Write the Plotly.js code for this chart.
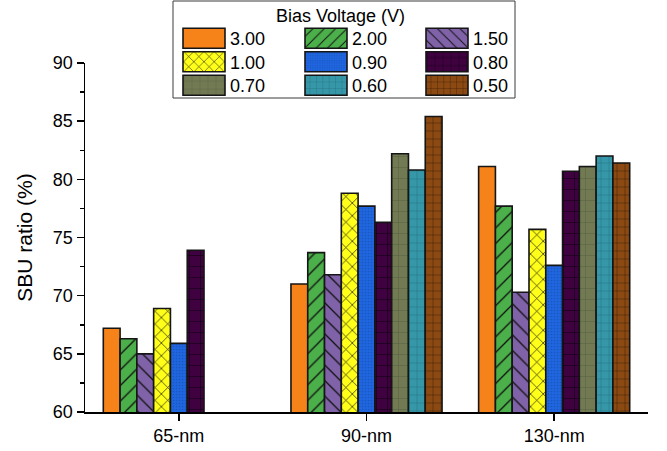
<!DOCTYPE html>
<html><head><meta charset="utf-8">
<script src="https://cdn.plot.ly/plotly-3.0.1.min.js"></script>
<style>html,body{margin:0;padding:0;background:#fff}</style>
</head><body><div id="chart" style="width:667px;height:451px"></div>
<script>
// ---- data ----
const categories = ['65-nm', '90-nm', '130-nm'];
const voltages = ['3.00', '2.00', '1.50', '1.00', '0.90', '0.80', '0.70', '0.60', '0.50'];
const v300 = [67.2, 71.0, 81.1];
const v200 = [66.3, 73.7, 77.7];
const v150 = [65.0, 71.8, 70.3];
const v100 = [68.9, 78.8, 75.7];
const v090 = [65.9, 77.7, 72.6];
const v080 = [73.9, 76.3, 80.7];
const v070 = [null, 82.2, 81.1];
const v060 = [null, 80.8, 82.0];
const v050 = [null, 85.4, 81.4];
const yTickVals = [60, 65, 70, 75, 80, 85, 90];
const yTitle = 'SBU ratio (%)';
const legendTitle = 'Bias Voltage (V)';

const series = [v300, v200, v150, v100, v090, v080, v070, v060, v050];

// ---- styles ----
const styles = [
  {color:'#F68319', shape:'',  size:8,  sol:0.1,  fg:'#000'},
  {color:'#4BAF4A', shape:'/', size:11, sol:0.12, fg:'#111'},
  {color:'#8062A8', shape:'\\', size:11, sol:0.12, fg:'#111'},
  {color:'#FFFF1A', shape:'x', size:9,  sol:0.14, fg:'#111'},
  {color:'#1F66E0', shape:'.', size:3,  sol:0.25, fg:'#1A55C0'},
  {color:'#3F0140', shape:'+', size:11, sol:0.08, fg:'#000'},
  {color:'#717A52', shape:'+', size:11, sol:0.06, fg:'#4A5236'},
  {color:'#3597A8', shape:'+', size:8,  sol:0.08, fg:'#1E5E6A'},
  {color:'#8C4A12', shape:'+', size:8,  sol:0.1,  fg:'#2A1405'}
];

const FONT = 'Arial, "Liberation Sans", sans-serif';
const W = 667, H = 451, L = 85, R = 19, T = 63, B = 39;
const pw = W - L - R, ph = H - T - B;
const px2x = p => (p - L) / pw;
const py2y = p => (H - B - p) / ph;

const colLeft = [178, 300, 421];
const rowTop = [20, 43.5, 67];

const traces = series.map((vals, i) => ({
  type: 'bar',
  x: categories,
  y: vals,
  name: voltages[i],
  legend: i === 0 ? 'legend' : 'legend' + (i + 1),
  marker: {
    color: styles[i].color,
    line: {color: '#151515', width: 1.6},
    pattern: {shape: styles[i].shape, size: styles[i].size, solidity: styles[i].sol,
              fgcolor: styles[i].fg, bgcolor: styles[i].color, fillmode: 'replace'}
  },
  hoverinfo: 'x+y+name'
}));

const layout = {
  width: W, height: H,
  margin: {l: L, r: R, t: T, b: B, autoexpand: false},
  paper_bgcolor: '#fff', plot_bgcolor: '#fff',
  font: {family: FONT, size: 18, color: '#000'},
  barmode: 'group', bargap: 0.195, bargroupgap: 0,
  xaxis: {
    type: 'category', range: [-0.5, 2.5], showline: true, linecolor: '#000', linewidth: 1.5,
    ticks: 'outside', ticklen: 7, tickwidth: 1.5, tickcolor: '#000',
    tickfont: {size: 18, family: FONT, color: '#000'}, showgrid: false, zeroline: false,
    automargin: false, fixedrange: true
  },
  yaxis: {
    range: [60, 90], tickvals: yTickVals, showline: true, linecolor: '#000', linewidth: 1.5,
    ticks: 'outside', ticklen: 7, tickwidth: 1.5, tickcolor: '#000',
    tickfont: {size: 18, family: FONT, color: '#000'},
    minor: {dtick: 2.5, tick0: 60, ticks: 'outside', ticklen: 4, tickwidth: 1.5, tickcolor: '#000', showgrid: false},
    showgrid: false, zeroline: false, automargin: false, fixedrange: true,
    title: {text: yTitle, font: {size: 21, family: FONT, color: '#000'}, standoff: 14}
  },
  shapes: [{
    type: 'rect', xref: 'paper', yref: 'paper',
    x0: px2x(173), x1: px2x(515), y0: py2y(98), y1: py2y(1),
    line: {color: '#3a3a3a', width: 1}, fillcolor: '#fff', layer: 'above'
  }],
  annotations: [{
    text: legendTitle, xref: 'paper', yref: 'paper', x: px2x(340), y: py2y(16),
    xanchor: 'center', yanchor: 'middle', showarrow: false,
    font: {size: 18, family: FONT, color: '#000'}
  }],
  showlegend: true
};

voltages.forEach((v, i) => {
  const key = i === 0 ? 'legend' : 'legend' + (i + 1);
  layout[key] = {
    x: px2x(colLeft[i % 3]), y: py2y(rowTop[Math.floor(i / 3)]),
    xanchor: 'left', yanchor: 'top', bgcolor: 'rgba(0,0,0,0)', borderwidth: 0,
    font: {size: 18, family: FONT, color: '#000'}, itemwidth: 42, tracegroupgap: 0
  };
});

Plotly.newPlot('chart', traces, layout, {displayModeBar: false, staticPlot: true}).then(() => {
  document.querySelectorAll('.legendpoints path').forEach(p => {
    p.setAttribute('d', 'M21,10H-21V-10H21Z');
  });
});
</script>
</body></html>
